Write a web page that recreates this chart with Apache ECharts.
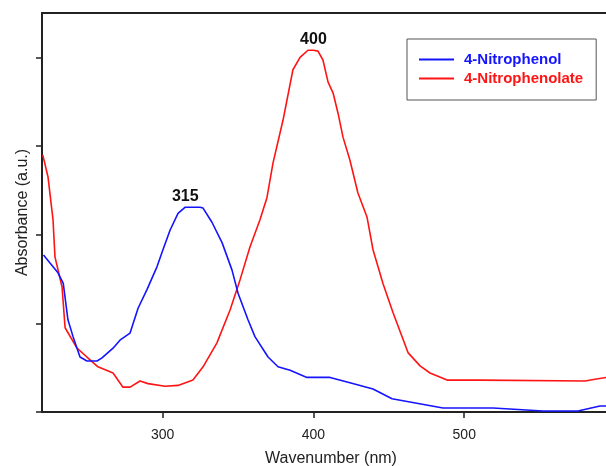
<!DOCTYPE html>
<html>
<head>
<meta charset="utf-8">
<script src="https://cdn.jsdelivr.net/npm/echarts@6/dist/echarts.min.js"></script>
<style>
  html, body { margin: 0; padding: 0; background: #fff; }
  #chart { width: 606px; height: 466px; }
</style>
</head>
<body>
<div id="chart"></div>
<script>
// UV-Vis spectra: wavelength (nm) and absorbance (a.u.)
const phenolWl = [221, 225.3, 230.6, 234.1, 237.2, 240.6, 245.2, 249.8, 256.5, 259.8, 267.1, 271.7, 275, 278.4, 283.7, 289.6, 296.3, 300.2, 304.9, 310.2, 315, 319.5, 324.8, 326.8, 332.7, 339.4, 346, 350, 356.6, 361.2, 369.9, 376.5, 384.5, 395.7, 411, 424.2, 439.5, 452.1, 485.9, 519.1, 552.2, 575.4, 590, 594];
const phenolAbs = [1.77, 1.68, 1.57, 1.45, 1.04, 0.85, 0.62, 0.575, 0.575, 0.61, 0.72, 0.81, 0.85, 0.89, 1.17, 1.38, 1.64, 1.83, 2.05, 2.24, 2.31, 2.31, 2.31, 2.3, 2.14, 1.91, 1.6, 1.34, 1.04, 0.85, 0.62, 0.51, 0.47, 0.39, 0.39, 0.33, 0.26, 0.15, 0.045, 0.045, 0.011, 0.011, 0.068, 0.068];

const phenolateWl = [220.5, 224, 227.3, 228.6, 233.3, 235.3, 243.2, 249.8, 257.1, 267.1, 273.7, 278.4, 285, 290.3, 301.6, 310.2, 320.1, 326.8, 336, 344.7, 351.3, 357.9, 364.6, 369.2, 373.2, 379.8, 386.4, 391.1, 396.4, 400, 403, 406.3, 409.7, 413, 416.3, 419.6, 424.2, 429.5, 435.5, 439.5, 446.1, 452.8, 462.7, 470.7, 477.3, 488.6, 510.4, 580.1, 586.7, 594];
const phenolateAbs = [2.9, 2.65, 2.17, 1.75, 1.41, 0.95, 0.72, 0.62, 0.51, 0.44, 0.28, 0.28, 0.35, 0.32, 0.29, 0.3, 0.36, 0.51, 0.78, 1.15, 1.49, 1.86, 2.17, 2.42, 2.81, 3.29, 3.86, 4.0, 4.08, 4.08, 4.07, 3.97, 3.72, 3.6, 3.37, 3.1, 2.84, 2.47, 2.2, 1.83, 1.45, 1.12, 0.67, 0.52, 0.44, 0.36, 0.36, 0.35, 0.37, 0.39];

// Absorption maxima annotated above each curve
const phenolPeak = 315;
const phenolatePeak = 400;

const xTicks = [300, 400, 500];
const yTicks = [0, 1, 2, 3, 4];

const seriesNames = ['4-Nitrophenol', '4-Nitrophenolate'];
const seriesColors = ['#1414ff', '#ff1414'];

const font = 'Liberation Sans, Arial, sans-serif';

function toPairs(wl, abs) {
  return wl.map((w, i) => [w, abs[i]]);
}

// Text marker sitting on the curve at the peak wavelength
function peakMark(wl, abs, peak) {
  const i = wl.indexOf(peak);
  return {
    symbol: 'circle',
    symbolSize: 0,
    silent: true,
    label: {
      show: true,
      position: 'top',
      distance: 3,
      formatter: String(peak),
      fontFamily: font,
      fontWeight: 'bold',
      fontSize: 16,
      color: '#111'
    },
    data: [{ coord: [peak, abs[i]] }]
  };
}

const chart = echarts.init(document.getElementById('chart'), null, { renderer: 'canvas' });

chart.setOption({
  animation: false,
  backgroundColor: '#fff',
  grid: { left: 42, right: 0, top: 13, bottom: 54, containLabel: false, outerBoundsMode: 'none' },
  legend: {
    left: 407,
    top: 39,
    orient: 'vertical',
    backgroundColor: '#fff',
    borderColor: '#555',
    borderWidth: 1,
    borderRadius: 0,
    padding: [13, 13, 14, 12],
    itemGap: 4,
    itemWidth: 35,
    itemHeight: 2,
    icon: 'rect',
    textStyle: { fontFamily: font, fontWeight: 'bold', fontSize: 15, padding: [0, 0, 0, 5] },
    data: seriesNames.map((n, i) => ({ name: n, textStyle: { color: seriesColors[i] } }))
  },
  xAxis: [{
    type: 'value',
    min: 220,
    max: 594,
    name: 'Wavenumber (nm)',
    nameLocation: 'middle',
    nameGap: 39,
    nameTextStyle: { fontFamily: font, fontSize: 16, color: '#222', padding: [0, 0, 0, 14] },
    axisLine: { lineStyle: { color: '#222', width: 2 } },
    axisTick: { show: true, length: 6, lineStyle: { color: '#222', width: 1.5 }, customValues: xTicks },
    axisLabel: { fontFamily: font, fontSize: 14, color: '#222', margin: 16, customValues: xTicks },
    splitLine: { show: false }
  }, {
    type: 'value',
    position: 'top',
    min: 220,
    max: 594,
    axisLine: { show: true, onZero: false, lineStyle: { color: '#222', width: 2 } },
    axisTick: { show: false },
    axisLabel: { show: false },
    splitLine: { show: false }
  }],
  yAxis: {
    type: 'value',
    min: 0,
    max: 4.5,
    name: 'Absorbance (a.u.)',
    nameLocation: 'middle',
    nameGap: 11,
    nameTextStyle: { fontFamily: font, fontSize: 16, color: '#222' },
    axisLine: { show: true, lineStyle: { color: '#222', width: 2 } },
    axisTick: { show: true, length: 6, lineStyle: { color: '#222', width: 1.5 }, customValues: yTicks },
    axisLabel: { show: false },
    splitLine: { show: false }
  },
  series: [{
    name: seriesNames[0],
    type: 'line',
    xAxisIndex: 0,
    showSymbol: false,
    symbol: 'none',
    lineStyle: { color: seriesColors[0], width: 1.6 },
    itemStyle: { color: seriesColors[0] },
    data: toPairs(phenolWl, phenolAbs),
    markPoint: peakMark(phenolWl, phenolAbs, phenolPeak),
    z: 3
  }, {
    name: seriesNames[1],
    type: 'line',
    xAxisIndex: 0,
    showSymbol: false,
    symbol: 'none',
    lineStyle: { color: seriesColors[1], width: 1.6 },
    itemStyle: { color: seriesColors[1] },
    data: toPairs(phenolateWl, phenolateAbs),
    markPoint: peakMark(phenolateWl, phenolateAbs, phenolatePeak),
    z: 2
  }]
});
</script>
</body>
</html>
